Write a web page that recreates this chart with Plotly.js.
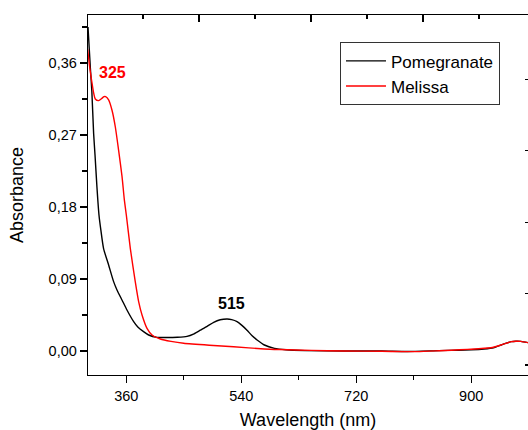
<!DOCTYPE html>
<html>
<head>
<meta charset="utf-8">
<script src="https://cdn.plot.ly/plotly-3.0.1.min.js"></script>
<style>html,body{margin:0;padding:0;background:#fff;}#chart{width:528px;height:430px;}</style>
</head>
<body>
<div id="chart"></div>
<script>
// Pomegranate (black) spectrum
const pomWavelength = [300, 303.6, 306, 308.8, 311, 314, 317.2, 320, 324.4, 332.3, 340.1, 345.4, 353.2, 361, 371.5, 378, 387, 395, 408, 425, 440, 455, 466, 476, 487, 496.8, 507, 517.8, 525, 533.4, 541, 549, 557, 564.8, 576.2, 592, 610, 640, 700, 760, 800, 850, 880, 900, 920, 935, 947, 955, 963, 970, 978, 989];
const pomAbsorbance = [0.405, 0.355, 0.325, 0.272, 0.245, 0.205, 0.17, 0.152, 0.128, 0.1075, 0.0867, 0.0763, 0.0638, 0.0513, 0.0367, 0.03, 0.0242, 0.02, 0.0171, 0.0168, 0.0172, 0.0183, 0.0215, 0.026, 0.031, 0.0358, 0.039, 0.040, 0.0392, 0.0367, 0.032, 0.026, 0.019, 0.0138, 0.0075, 0.0033, 0.0015, 0.0005, 0.0, 0.0, -0.0006, 0.0005, 0.001, 0.0015, 0.0025, 0.004, 0.0075, 0.0098, 0.0117, 0.0122, 0.012, 0.0104];

// Melissa (red) spectrum
const melWavelength = [299.5, 302.6, 306.3, 309, 311.4, 316.6, 321.9, 325, 327.6, 332.3, 337.6, 342.8, 347.9, 353.3, 356.9, 360, 366.3, 374, 379.3, 384.6, 392.4, 400.3, 413.3, 430, 449.8, 490, 528, 576, 600, 650, 700, 760, 815, 850, 869, 894, 931, 947, 963, 970, 978, 989];
const melAbsorbance = [0.377, 0.355, 0.335, 0.322, 0.315, 0.313, 0.316, 0.318, 0.318, 0.314, 0.301, 0.280, 0.251, 0.218, 0.189, 0.17, 0.128, 0.0867, 0.0617, 0.045, 0.0283, 0.02, 0.015, 0.012, 0.0096, 0.0072, 0.0054, 0.0025, 0.0018, 0.0008, 0.0, -0.0004, -0.0008, 0.0003, 0.001, 0.002, 0.004, 0.0075, 0.0117, 0.0122, 0.012, 0.0104];

const seriesNames = ['Pomegranate', 'Melissa'];
const peakLabels = ['325', '515'];
const peakX = [338, 524.5];
const peakY = [0.348, 0.06];

const FONT = 'Arial, "Liberation Sans", sans-serif';

const traces = [
  {x: pomWavelength, y: pomAbsorbance, name: seriesNames[0], type: 'scatter', mode: 'lines',
   line: {color: '#000000', width: 1.4, shape: 'spline', smoothing: 0.6}},
  {x: melWavelength, y: melAbsorbance, name: seriesNames[1], type: 'scatter', mode: 'lines',
   line: {color: '#ff0000', width: 1.4, shape: 'spline', smoothing: 0.6}},
  // empty helper trace so the top/right frame axes get drawn
  {x: [], y: [], xaxis: 'x2', yaxis: 'y2', type: 'scatter', mode: 'lines', showlegend: false, hoverinfo: 'skip'}
];

const layout = {
  width: 528, height: 430,
  margin: {l: 88, r: 0, t: 15, b: 55, pad: 0},
  paper_bgcolor: '#ffffff', plot_bgcolor: '#ffffff',
  separators: ',.',
  font: {family: FONT, color: '#000', size: 14.5},
  showlegend: true,
  legend: {x: 0.5727, y: 0.924, xanchor: 'left', yanchor: 'top',
    bgcolor: '#ffffff', bordercolor: '#333', borderwidth: 1,
    font: {family: FONT, size: 17, color: '#000'}, tracegroupgap: 0, itemwidth: 40},
  xaxis: {range: [300, 989], tick0: 360, dtick: 180, ticks: 'outside', ticklen: 7, tickwidth: 1.2,
    tickcolor: '#000', showline: true, linecolor: '#000', linewidth: 1.3, showgrid: false, zeroline: false,
    minor: {dtick: 90, tick0: 360, ticks: 'outside', ticklen: 4, tickwidth: 1.2, tickcolor: '#000', showgrid: false},
    tickfont: {family: FONT, size: 14.5, color: '#000'},
    title: {text: 'Wavelength (nm)', font: {family: FONT, size: 18, color: '#000'}, standoff: 12}},
  yaxis: {range: [-0.03, 0.42], tick0: 0, dtick: 0.09, tickformat: '.2f', ticks: 'outside', ticklen: 7, tickwidth: 1.2,
    tickcolor: '#000', showline: true, linecolor: '#000', linewidth: 1.3, showgrid: false, zeroline: false,
    minor: {dtick: 0.045, tick0: 0, ticks: 'outside', ticklen: 5, tickwidth: 1.2, tickcolor: '#000', showgrid: false},
    tickfont: {family: FONT, size: 14.5, color: '#000'},
    title: {text: 'Absorbance', font: {family: FONT, size: 18, color: '#000'}, standoff: 20}},
  xaxis2: {overlaying: 'x', side: 'top', anchor: 'y2', range: [0, 440], tick0: 111, dtick: 112,
    ticks: 'inside', ticklen: 7, tickwidth: 1.2, tickcolor: '#000', showticklabels: false,
    showline: true, linecolor: '#000', linewidth: 1.3, showgrid: false, zeroline: false,
    minor: {dtick: 56, tick0: 55, ticks: 'inside', ticklen: 4, tickwidth: 1.2, tickcolor: '#000', showgrid: false}},
  yaxis2: {overlaying: 'y', side: 'right', anchor: 'x2', range: [0, 0.45], tick0: 0.0125, dtick: 0.0893,
    ticks: 'inside', ticklen: 3, tickwidth: 1.2, tickcolor: '#000', showticklabels: false,
    showline: false, showgrid: false, zeroline: false},
  annotations: [
    {x: peakX[0], y: peakY[0], xref: 'x', yref: 'y', text: '<b>' + peakLabels[0] + '</b>', showarrow: false,
     font: {family: FONT, size: 16, color: '#ff0000'}},
    {x: peakX[1], y: peakY[1], xref: 'x', yref: 'y', text: '<b>' + peakLabels[1] + '</b>', showarrow: false,
     font: {family: FONT, size: 16, color: '#000'}}
  ]
};

Plotly.newPlot('chart', traces, layout, {staticPlot: true, displayModeBar: false});
</script>
</body>
</html>
